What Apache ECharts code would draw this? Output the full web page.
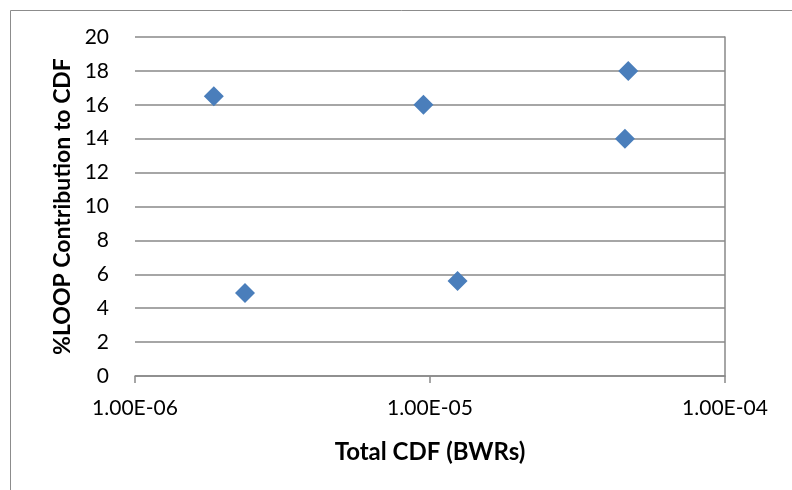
<!DOCTYPE html>
<html>
<head>
<meta charset="utf-8">
<script src="https://cdn.jsdelivr.net/npm/echarts@6/dist/echarts.min.js"></script>
<style>
  html, body { margin: 0; padding: 0; background: #fff; }
  #chart { width: 792px; height: 490px; }
</style>
</head>
<body>
<div id="chart"></div>
<script>
// values
const totalCdf = [1.85e-6, 2.36e-6, 9.5e-6, 1.24e-5, 4.7e-5, 4.58e-5];
const loopPct = [16.5, 4.9, 16.0, 5.6, 18.0, 14.0];
const yTicks = [0, 2, 4, 6, 8, 10, 12, 14, 16, 18, 20];

const chart = echarts.init(document.getElementById('chart'));

// Excel style label: 1.00E-06
const fmtExp = (v) => {
  const exp = Math.round(Math.log10(v));
  const mant = (v / Math.pow(10, exp)).toFixed(2);
  const sign = exp < 0 ? '-' : '+';
  return mant + 'E' + sign + String(Math.abs(exp)).padStart(2, '0');
};

const font = 'Lato, "Liberation Sans", sans-serif';
const gridColor = '#898989';

chart.setOption({
  animation: false,
  backgroundColor: '#fff',
  graphic: [{
    type: 'rect',
    left: 8, top: 8,
    shape: { width: 800, height: 500 },
    style: { fill: 'none', stroke: '#8c8c8c', lineWidth: 1 },
    silent: true
  }],
  grid: { left: 135, right: 67, top: 37, bottom: 114 },
  xAxis: {
    type: 'log',
    logBase: 10,
    min: 1e-6,
    max: 1e-4,
    name: 'Total CDF (BWRs)',
    nameLocation: 'middle',
    nameGap: 64,
    nameTextStyle: { fontFamily: font, fontSize: 24, fontWeight: 'bold', color: '#000' },
    axisLine: { show: true, lineStyle: { color: gridColor, width: 1.5 } },
    axisTick: { show: true, inside: false, length: 7, lineStyle: { color: gridColor, width: 1.5 } },
    minorTick: { show: false },
    splitLine: { show: false },
    axisLabel: { formatter: fmtExp, fontFamily: font, fontSize: 21, color: '#000', margin: 22 }
  },
  yAxis: [{
    type: 'value',
    min: yTicks[0],
    max: yTicks[yTicks.length - 1],
    interval: 2,
    name: '%LOOP Contribution to CDF',
    nameLocation: 'middle',
    nameGap: 61,
    nameRotate: 90,
    nameTextStyle: { fontFamily: font, fontSize: 23, fontWeight: 'bold', color: '#000' },
    axisLine: { show: false },
    axisTick: { show: false },
    splitLine: { show: true, lineStyle: { color: gridColor, width: 1.5 } },
    axisLabel: { fontFamily: font, fontSize: 21, color: '#000', margin: 26 }
  }, {
    type: 'value',
    position: 'right',
    min: yTicks[0],
    max: yTicks[yTicks.length - 1],
    interval: 2,
    axisLine: { show: true, lineStyle: { color: gridColor, width: 1.5 } },
    axisTick: { show: false },
    axisLabel: { show: false },
    splitLine: { show: false }
  }],
  series: [{
    type: 'scatter',
    symbol: 'diamond',
    symbolSize: [20, 20],
    itemStyle: { color: '#4a7ebb', opacity: 1 },
    data: totalCdf.map((x, i) => [x, loopPct[i]])
  }]
});
</script>
</body>
</html>
